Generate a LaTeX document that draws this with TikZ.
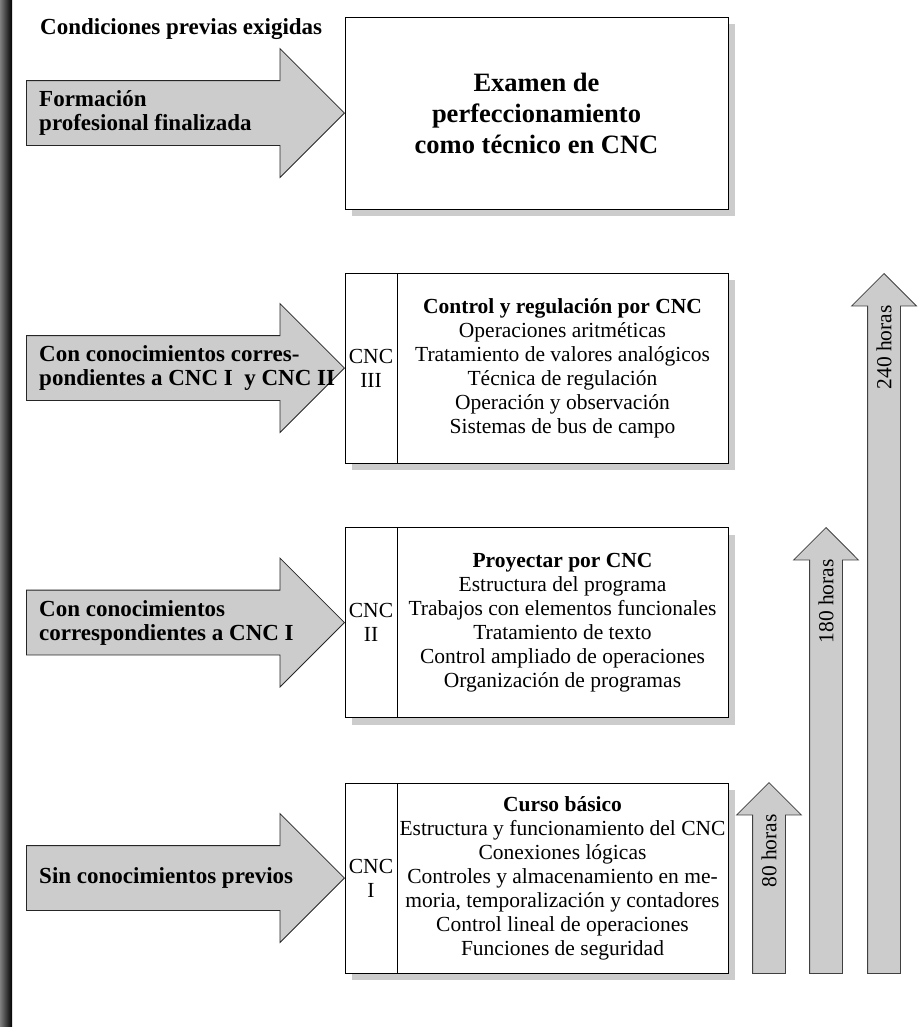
\documentclass[tikz,border=0pt]{standalone}
\usepackage{fontspec}
\setmainfont{Liberation Serif}
\usetikzlibrary{positioning,shapes.arrows,shadows}
\tikzset{%
    bigarrow/.style={single arrow,draw=black!85,fill=black!20,line width=.8bp,
        minimum height=318bp,single arrow head extend=32bp,
        single arrow head indent=0bp,inner sep=32bp,anchor=tip},
    hourarrow/.style={single arrow,shape border rotate=90,draw=black!75,fill=black!20,
        line width=.8bp,single arrow head extend=16bp,
        single arrow head indent=0bp,inner sep=16bp,anchor=tip},
    prelabel/.style={anchor=west,align=left,inner sep=0bp,
        font=\fontsize{23bp}{24bp}\selectfont\bfseries},
    course/.style={draw,line width=.8bp,fill=white,minimum height=190bp,inner sep=0bp,
        outer sep=0bp,align=center,font=\fontsize{21.5bp}{24bp}\selectfont,
        drop shadow={shadow xshift=7bp,shadow yshift=-7bp,fill=black!20,opacity=1}},
    level/.style={course,minimum width=52bp},
    topics/.style={course,minimum width=331bp},
    hours/.style={rotate=90,anchor=east,inner sep=1bp,font=\fontsize{21.5bp}{24bp}\selectfont}
}

\begin{document}
\begin{tikzpicture}[x=1bp,y=-1bp]
    \useasboundingbox (0,0) rectangle (923,1027);
    \shade[left color=black!50,right color=black] (0,0) rectangle (12,1027);
    \node[prelabel] (titulo) at (40,29) {Condiciones previas exigidas};
    %%%%% boxes
    \node[course,minimum width=383bp,minimum height=192bp,
        font=\fontsize{26.5bp}{31bp}\selectfont\bfseries] (examen) at (536.5,113)
        {Examen de\\perfeccionamiento\\como técnico en CNC};
    \node[level] (cnc3) at (371,368) {CNC\\III};
    \node[topics,right=0pt of cnc3] (temas3) {\textbf{Control y regulación por CNC}\\
        Operaciones aritméticas\\Tratamiento de valores analógicos\\
        Técnica de regulación\\Operación y observación\\Sistemas de bus de campo};
    \node[level] (cnc2) at (371,622.5) {CNC\\II};
    \node[topics,right=0pt of cnc2] (temas2) {\textbf{Proyectar por CNC}\\
        Estructura del programa\\Trabajos con elementos funcionales\\
        Tratamiento de texto\\Control ampliado de operaciones\\Organización de programas};
    \node[level] (cnc1) at (371,878) {CNC\\I};
    \node[topics,right=0pt of cnc1] (temas1) {\textbf{Curso básico}\\
        Estructura y funcionamiento del CNC\\Conexiones lógicas\\
        Controles y almacenamiento en me-\\moria, temporalización y contadores\\
        Control lineal de operaciones\\Funciones de seguridad};
    %%%%% entry arrows
    \node[bigarrow] (pre1) at (examen.west) {};
    \node[bigarrow] (pre2) at (cnc3.west) {};
    \node[bigarrow] (pre3) at (cnc2.west) {};
    \node[bigarrow] (pre4) at (cnc1.west) {};
    \node[prelabel,right=13bp of pre1.tail] (txt1) {Formación\\profesional finalizada};
    \node[prelabel,right=13bp of pre2.tail] (txt2) {Con conocimientos corres-\\pondientes a CNC I\ \ y CNC II};
    \node[prelabel,right=13bp of pre3.tail] (txt3) {Con conocimientos\\correspondientes a CNC I};
    \node[prelabel,right=13bp of pre4.tail] (txt4) {Sin conocimientos previos};
    %%%%% hours
    \node[hourarrow,minimum height=191bp] (h80) at (769,782) {};
    \node[hourarrow,minimum height=446bp] (h180) at (826,527) {};
    \node[hourarrow,minimum height=700bp] (h240) at (884,273) {};
    \node[hours] (t80) at ([yshift=-31bp]h80.tip) {80 horas};
    \node[hours] (t180) at ([yshift=-31bp]h180.tip) {180 horas};
    \node[hours] (t240) at ([yshift=-31bp]h240.tip) {240 horas};
\end{tikzpicture}
\end{document}
